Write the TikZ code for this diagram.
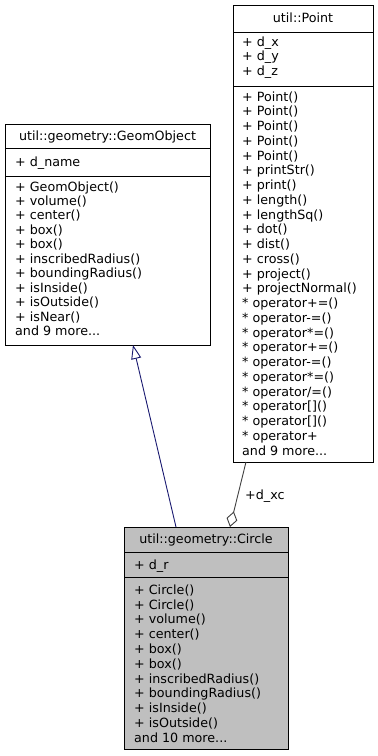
\documentclass[tikz,border=0pt]{standalone}
\usepackage{fontspec}
\setmainfont{DejaVu Sans}
\usetikzlibrary{arrows.meta}
\definecolor{inhcol}{HTML}{191970}
\definecolor{aggcol}{HTML}{404040}
\definecolor{classfill}{HTML}{BFBFBF}
\begin{document}
\begin{tikzpicture}[x=1pt,y=-1pt,
  classbox/.style={draw=black, line width=0.9pt, inner sep=0pt, outer sep=0pt},
  sepline/.style={draw=black, line width=0.9pt},
  umltext/.style={inner sep=0pt, font=\fontsize{12.7}{14.6}\selectfont},
  members/.style={umltext, anchor=north west, align=left},
  spacing/.style={font=\fontsize{12.7}{#1}\selectfont},
  title/.style={umltext, anchor=base},
  inherit/.style={draw=inhcol, line width=0.9pt, -{Triangle[length=14pt,width=10pt,fill=white]}},
  aggregate/.style={draw=aggcol, line width=0.9pt, -{Diamond[length=16pt,width=11pt,fill=white]}}
]
\useasboundingbox (0,0) rectangle (378,756);

% util::Point
\node[classbox, minimum width=140pt, minimum height=457pt] (point) at (303,233.5) {};
\draw[sepline] (233,32) -- (373,32);
\draw[sepline] (233,86) -- (373,86);
\node[title] (pointtitle) at (303,22) {util::Point};
\node[members] (pointattr) at (242,35.7) {\strut + d\_x\\+ d\_y\\+ d\_z};
\node[members, spacing=14.75] (pointops) at (242,90.7) {\strut + Point()\\+ Point()\\+ Point()\\+ Point()\\+ Point()\\+ printStr()\\+ print()\\+ length()\\+ lengthSq()\\+ dot()\\+ dist()\\+ cross()\\+ project()\\+ projectNormal()\\* operator+=()\\* operator-=()\\* operator*=()\\* operator+=()\\* operator-=()\\* operator*=()\\* operator/=()\\* operator[]()\\* operator[]()\\* operator+\\and 9 more...};

% util::geometry::GeomObject
\node[classbox, minimum width=205pt, minimum height=221pt] (geom) at (107.5,234.5) {};
\draw[sepline] (5,148) -- (210,148);
\draw[sepline] (5,176) -- (210,176);
\node[title] (geomtitle) at (107.5,140) {util::geometry::GeomObject};
\node[members] (geomattr) at (15,155.7) {\strut + d\_name};
\node[members, spacing=14.45] (geomops) at (15,180.7) {\strut + GeomObject()\\+ volume()\\+ center()\\+ box()\\+ box()\\+ inscribedRadius()\\+ boundingRadius()\\+ isInside()\\+ isOutside()\\+ isNear()\\and 9 more...};

% util::geometry::Circle
\node[classbox, fill=classfill, minimum width=164pt, minimum height=222pt] (circle) at (206,638) {};
\draw[sepline] (124,552) -- (288,552);
\draw[sepline] (124,577) -- (288,577);
\node[title] (circletitle) at (206,543) {util::geometry::Circle};
\node[members] (circleattr) at (134,558.7) {\strut + d\_r};
\node[members, spacing=14.8] (circleops) at (134,583.7) {\strut + Circle()\\+ Circle()\\+ volume()\\+ center()\\+ box()\\+ box()\\+ inscribedRadius()\\+ boundingRadius()\\+ isInside()\\+ isOutside()\\and 10 more...};

% relations
\draw[inherit] ([xshift=52pt]circle.north west) -- ([xshift=128pt]geom.south west);
\draw[aggregate] ([xshift=13pt]point.south west) -- ([xshift=106pt]circle.north west);
\node[umltext, anchor=base west] (dxc) at (245,499) {+d\_xc};
\end{tikzpicture}
\end{document}
